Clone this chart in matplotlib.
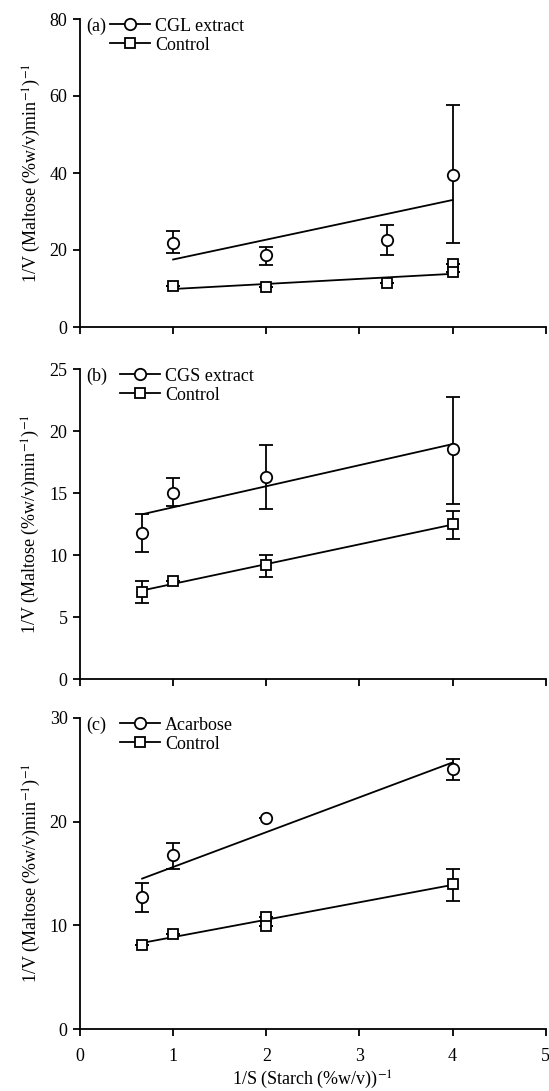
import numpy as np
import matplotlib
matplotlib.use("Agg")
import matplotlib.pyplot as plt
from matplotlib.lines import Line2D

plt.rcParams['font.family'] = ['Liberation Serif', 'DejaVu Serif']
plt.rcParams['mathtext.fontset'] = 'stix'

# ---------------- data ----------------
# Panel (a)
a_labels = ["CGL extract", "Control"]
a_x_ext = [1, 2, 3.3, 4]
a_y_ext = [21.8, 18.7, 22.5, 39.6]
a_up_ext = [3.15, 2.2, 3.9, 18.0]
a_dn_ext = [2.6, 2.5, 3.75, 17.8]
a_x_ctl = [1, 2, 3.3, 4, 4]
a_y_ctl = [10.75, 10.4, 11.35, 16.3, 14.2]
a_up_ctl = [0, 0, 0, 0, 0]
a_dn_ctl = [0, 0, 0, 0, 0]
a_yticks = [0, 20, 40, 60, 80]

# Panel (b)
b_labels = ["CGS extract", "Control"]
b_x_ext = [0.667, 1, 2, 4]
b_y_ext = [11.8, 15.02, 16.26, 18.54]
b_up_ext = [1.5, 1.18, 2.62, 4.21]
b_dn_ext = [1.53, 1.07, 2.53, 4.46]
b_x_ctl = [0.667, 1, 2, 4]
b_y_ctl = [7.0, 7.89, 9.17, 12.47]
b_up_ctl = [0.89, 0, 0.83, 1.1]
b_dn_ctl = [0.88, 0, 0.91, 1.2]
b_yticks = [0, 5, 10, 15, 20, 25]

# Panel (c)
c_labels = ["Acarbose", "Control"]
c_x_ext = [0.667, 1, 2, 4]
c_y_ext = [12.71, 16.74, 20.31, 25.07]
c_up_ext = [1.42, 1.16, 0, 0.93]
c_dn_ext = [1.41, 1.26, 0, 1.09]
c_x_ctl = [0.667, 1, 2, 2, 4]
c_y_ctl = [8.11, 9.2, 10.78, 9.95, 13.94]
c_up_ctl = [0, 0, 0, 0, 1.48]
c_dn_ctl = [0, 0, 0, 0, 1.55]
c_yticks = [0, 10, 20, 30]

x_ticks = [0, 1, 2, 3, 4, 5]
panel_tags = ["(a)", "(b)", "(c)"]
ylabel = r"1/V (Maltose (%w/v)min$^{-1}$)$^{-1}$"
xlabel = r"1/S (Starch (%w/v))$^{-1}$"

# ---------------- figure ----------------
W, H = 549, 1091
fig = plt.figure(figsize=(W / 100, H / 100), dpi=100)

def rect(top_px, bot_px, left_px=80, right_px=545.7):
    return [left_px / W, 1 - bot_px / H, (right_px - left_px) / W, (bot_px - top_px) / H]

axes = [fig.add_axes(rect(19, 327)), fig.add_axes(rect(369, 679)), fig.add_axes(rect(718, 1029))]

panels = [
    (a_labels, a_x_ext, a_y_ext, a_up_ext, a_dn_ext, a_x_ctl, a_y_ctl, a_up_ctl, a_dn_ctl, a_yticks),
    (b_labels, b_x_ext, b_y_ext, b_up_ext, b_dn_ext, b_x_ctl, b_y_ctl, b_up_ctl, b_dn_ctl, b_yticks),
    (c_labels, c_x_ext, c_y_ext, c_up_ext, c_dn_ext, c_x_ctl, c_y_ctl, c_up_ctl, c_dn_ctl, c_yticks),
]

FS = 13
lw = 1.3
MS_O, MS_S = 8.2, 7.8

def fit_line(ax, x, y):
    x = np.asarray(x, float); y = np.asarray(y, float)
    ux = np.unique(x)
    my = np.array([y[x == u].mean() for u in ux])
    k, b = np.polyfit(ux, my, 1)
    xs = np.array([x.min(), x.max()])
    ax.plot(xs, k * xs + b, color='black', lw=lw, zorder=2)

for i, (ax, p) in enumerate(zip(axes, panels)):
    labels, xe, ye, ue, de, xc, yc, uc, dc, yt = p
    for (x, y, u, d, m, ms) in [(xe, ye, ue, de, 'o', MS_O), (xc, yc, uc, dc, 's', MS_S)]:
        fit_line(ax, x, y)
        ax.errorbar(x, y, yerr=[d, u], fmt='none', ecolor='black', elinewidth=lw,
                    capsize=5, capthick=lw, zorder=3)
        ax.plot(x, y, linestyle='none', marker=m, ms=ms, mfc='white', mec='black',
                mew=lw, zorder=4)
    ax.set_xlim(0, 5)
    ax.set_ylim(yt[0], yt[-1])
    ax.set_xticks(x_ticks)
    ax.set_yticks(yt)
    for s in ['top', 'right']:
        ax.spines[s].set_visible(False)
    for s in ['left', 'bottom']:
        ax.spines[s].set_linewidth(lw)
    ax.tick_params(direction='out', length=5, width=lw, labelsize=FS)
    ax.tick_params(axis='y', pad=4)
    ax.tick_params(axis='x', pad=9)
    if i < 2:
        ax.tick_params(axis='x', labelbottom=False)
    ax.set_ylabel(ylabel, fontsize=FS, labelpad=5)
    # panel tag
    ax.text(0.013, 1 - 7 / 310, panel_tags[i], transform=ax.transAxes, fontsize=FS,
            ha='left', va='center')
    handles = [Line2D([], [], color='black', lw=lw, marker='o', ms=MS_O, mfc='white', mec='black', mew=lw),
               Line2D([], [], color='black', lw=lw, marker='s', ms=MS_S, mfc='white', mec='black', mew=lw)]
    x0 = 0.064 if i == 0 else 0.086
    ax.legend(handles, labels, loc='upper left', bbox_to_anchor=(x0, 1.004),
              frameon=False, fontsize=FS, handlelength=2.2, handletextpad=0.3,
              labelspacing=0.1, borderaxespad=0, borderpad=0)

axes[2].set_xlabel(xlabel, fontsize=FS, labelpad=2)

fig.savefig("out.png", dpi=100)
